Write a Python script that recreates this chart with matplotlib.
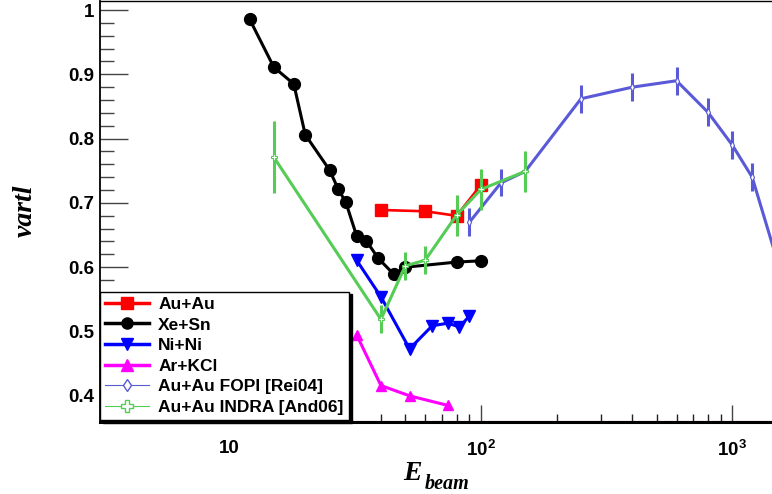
import matplotlib
matplotlib.use("Agg")
import matplotlib.pyplot as plt
from matplotlib.lines import Line2D
from matplotlib.ticker import FixedLocator, NullFormatter

plt.rcParams['font.family'] = ['Liberation Sans', 'DejaVu Sans']
plt.rcParams['mathtext.fontset'] = 'custom'
plt.rcParams['mathtext.rm'] = 'Liberation Sans:bold'
plt.rcParams['mathtext.bf'] = 'Liberation Sans:bold'
plt.rcParams['mathtext.it'] = 'Liberation Sans:bold'
plt.rcParams['mathtext.default'] = 'bf'

# ---- data ----
au_e = [40, 60, 80, 100]
au_v = [0.689, 0.687, 0.680, 0.728]

xe_e = [12, 15, 18, 20, 25, 27, 29, 32, 35, 39, 45, 50, 80, 100]
xe_v = [0.986, 0.911, 0.885, 0.806, 0.751, 0.722, 0.701, 0.649, 0.641, 0.614, 0.589, 0.600, 0.608, 0.610]

ni_e = [32, 40, 52, 64, 74, 82, 90]
ni_v = [0.611, 0.554, 0.473, 0.509, 0.513, 0.507, 0.524]

ar_e = [32, 40, 52, 74]
ar_v = [0.495, 0.416, 0.400, 0.385]

fopi_e = [90, 120, 150, 250, 400, 600, 800, 1000, 1200, 1500]
fopi_v = [0.670, 0.731, 0.749, 0.862, 0.880, 0.890, 0.841, 0.790, 0.740, 0.614]
fopi_err = [0.022, 0.021, 0.022, 0.022, 0.022, 0.022, 0.022, 0.022, 0.022, 0.022]

indra_e = [15, 40, 50, 60, 80, 100, 150]
indra_v = [0.771, 0.519, 0.602, 0.611, 0.681, 0.721, 0.749]
indra_err = [0.056, 0.022, 0.022, 0.022, 0.032, 0.032, 0.032]

labels = ["Au+Au", "Xe+Sn", "Ni+Ni", "Ar+KCl", "Au+Au FOPI [Rei04]", "Au+Au INDRA [And06]"]
x_major = [10, 100, 1000]
x_major_labels = ["10", r"$10^{2}$", r"$10^{3}$"]
y_major = [0.4, 0.5, 0.6, 0.7, 0.8, 0.9, 1.0]
y_major_labels = ["0.4", "0.5", "0.6", "0.7", "0.8", "0.9", "1"]

C_FOPI = '#5a5ad8'
C_INDRA = '#55cc55'

fig = plt.figure(figsize=(7.72, 4.94), dpi=100)
ax = fig.add_axes([100/772, 72/494, 672/772, 421/494])
ax.set_xscale('log')
ax.set_xlim(3.05, 1439)
ax.set_ylim(0.3593, 1.014)

ax.plot(au_e, au_v, color='red', lw=1.9, marker='s', ms=8.5, zorder=3)
ax.plot(xe_e, xe_v, color='black', lw=2.2, marker='o', ms=8.5, zorder=3)
ax.plot(ni_e, ni_v, color='blue', lw=2.2, marker='v', ms=8, zorder=3)
ax.plot(ar_e, ar_v, color='magenta', lw=2.2, marker='^', ms=7.5, zorder=3)
ax.errorbar(fopi_e, fopi_v, yerr=fopi_err, color=C_FOPI, lw=2.2, elinewidth=2.2,
            capsize=0, marker='d', ms=4, mfc='white', mec=C_FOPI, mew=0.8, zorder=4)
ax.errorbar(indra_e, indra_v, yerr=indra_err, color=C_INDRA, lw=2.2, elinewidth=2.2,
            capsize=0, marker='P', ms=5, mfc='white', mec=C_INDRA, mew=0.8, zorder=5)

# red baseline just above axis
ax.axhline(0.3605, color='red', lw=0.8, zorder=2)

ax.xaxis.set_major_locator(FixedLocator(x_major))
ax.set_xticklabels(x_major_labels)
minors = [m * d for d in (1, 10, 100) for m in range(2, 10)]
ax.xaxis.set_minor_locator(FixedLocator(minors))
ax.xaxis.set_minor_formatter(NullFormatter())
ax.yaxis.set_major_locator(FixedLocator(y_major))
ax.set_yticklabels(y_major_labels)
ax.yaxis.set_minor_locator(FixedLocator([0.36 + 0.02 * i for i in range(33)]))

ax.tick_params(axis='y', which='major', direction='in', length=20, width=1, color='#444', labelsize=13.5, pad=4)
ax.tick_params(axis='y', which='minor', direction='in', length=10, width=1, color='#444')
ax.tick_params(axis='x', which='major', direction='in', length=12, width=1, color='#444', labelsize=13.5, pad=13)
ax.tick_params(axis='x', which='minor', direction='in', length=6, width=1, color='#222')
for lab in ax.get_xticklabels() + ax.get_yticklabels():
    lab.set_fontweight('bold')

ax.spines['right'].set_visible(False)
ax.spines['left'].set_linewidth(1.3)
ax.spines['top'].set_linewidth(1.0)
ax.spines['bottom'].set_linewidth(2.2)

# axis titles
fig.text(25/772, 1 - 211/494, 'vartl', rotation=90, ha='center', va='center',
         fontsize=20, fontweight='bold', fontstyle='italic', family='Liberation Serif')
fig.text(403/772, 1 - 480/494, 'E', ha='left', va='baseline',
         fontsize=20, fontweight='bold', fontstyle='italic', family='Liberation Serif')
fig.text(425/772, 1 - 489/494, 'beam', ha='left', va='baseline',
         fontsize=14.5, fontweight='bold', fontstyle='italic', family='Liberation Serif')

handles = [
    Line2D([], [], color='red', lw=2.5, marker='s', ms=8),
    Line2D([], [], color='black', lw=2.5, marker='o', ms=8),
    Line2D([], [], color='blue', lw=2.5, marker='v', ms=8),
    Line2D([], [], color='magenta', lw=2.5, marker='^', ms=8),
    Line2D([], [], color=C_FOPI, lw=0.8, marker='d', ms=6, mfc='white', mec=C_FOPI, mew=1),
    Line2D([], [], color=C_INDRA, lw=0.8, marker='P', ms=8, mfc='white', mec=C_INDRA, mew=1),
]
leg = ax.legend(handles, labels, loc='lower left', bbox_to_anchor=(0.0, 0.005),
                prop={'family': 'Liberation Sans', 'weight': 'bold', 'size': 12.5},
                frameon=True, fancybox=False, shadow={'color': 'black', 'alpha': 1},
                borderpad=0.3, labelspacing=0.31, handlelength=2.5, handletextpad=0.55,
                borderaxespad=0.0, framealpha=1)
leg.get_frame().set_edgecolor('black')
leg.get_frame().set_linewidth(1.0)
leg.set_zorder(10)

fig.savefig('out.png', dpi=100)
